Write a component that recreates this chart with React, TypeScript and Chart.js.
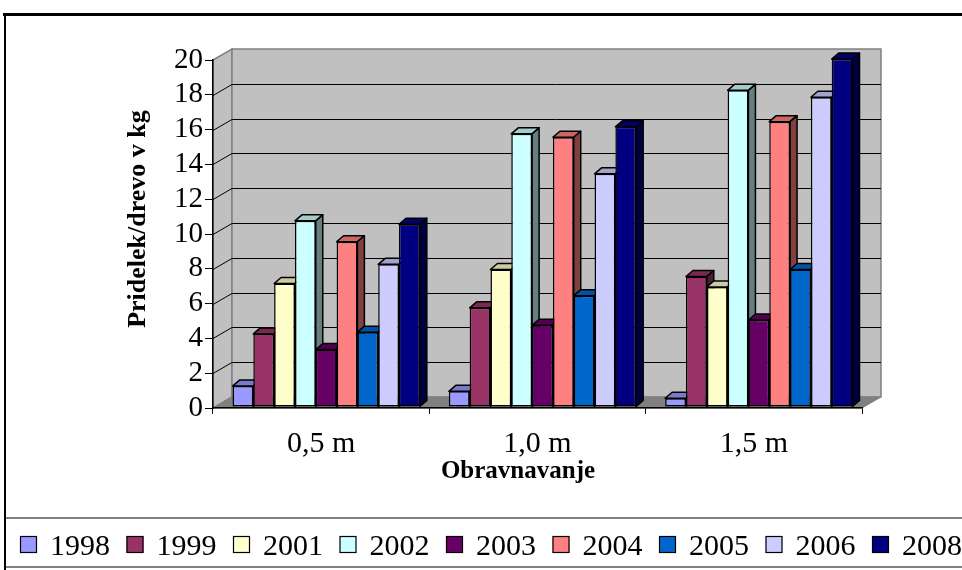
import { useEffect, useRef } from 'react';
import { Chart, registerables } from 'chart.js';

Chart.register(...registerables);

// Treatments (row spacing) on the category axis
const categories = ['0,5 m', '1,0 m', '1,5 m'];

// Harvest years shown as series
const years = ['1998', '1999', '2001', '2002', '2003', '2004', '2005', '2006', '2008'];

// Yield per tree (kg) for each year, in category order
const y1998 = [1.2, 0.9, 0.5];
const y1999 = [4.2, 5.7, 7.5];
const y2001 = [7.1, 7.9, 6.9];
const y2002 = [10.7, 15.7, 18.2];
const y2003 = [3.3, 4.7, 5.0];
const y2004 = [9.5, 15.5, 16.4];
const y2005 = [4.3, 6.4, 7.9];
const y2006 = [8.2, 13.4, 17.8];
const y2008 = [10.5, 16.1, 20.0];

const seriesValues = [y1998, y1999, y2001, y2002, y2003, y2004, y2005, y2006, y2008];
const seriesColors = ['#9999FF', '#993366', '#FFFFCC', '#CCFFFF', '#660066', '#FF8080', '#0066CC', '#CCCCFF', '#000080'];

const yMin = 0;
const yMax = 20;
const yStep = 2;

const xTitle = 'Obravnavanje';
const yTitle = 'Pridelek/drevo v kg';

const FONT = '"Liberation Serif", "Times New Roman", serif';

// depth of the walls / floor and of each bar
const WALL_DX = 19;
const WALL_DY = 11;
const BAR_DX = 7;
const BAR_DY = 6;
const BAR_SHIFT_X = 5;
const BAR_SHIFT_Y = -1;

function shade(hex: string, f: number): string {
  const n = parseInt(hex.slice(1), 16);
  const r = Math.round(((n >> 16) & 255) * f);
  const g = Math.round(((n >> 8) & 255) * f);
  const b = Math.round((n & 255) * f);
  return `rgb(${r},${g},${b})`;
}

function poly(ctx: CanvasRenderingContext2D, pts: number[][], fill: string, stroke: string, lw: number) {
  ctx.beginPath();
  ctx.moveTo(pts[0][0], pts[0][1]);
  for (let i = 1; i < pts.length; i++) ctx.lineTo(pts[i][0], pts[i][1]);
  ctx.closePath();
  ctx.fillStyle = fill;
  ctx.fill();
  ctx.lineWidth = lw;
  ctx.strokeStyle = stroke;
  ctx.stroke();
}

const box3d = {
  id: 'box3d',
  beforeDraw(chart: any) {
    const { ctx, chartArea, scales } = chart;
    const { left, right, top, bottom } = chartArea;
    const y = scales.y;
    ctx.save();
    ctx.lineJoin = 'miter';
    // side wall
    poly(ctx, [[left, top], [left + WALL_DX, top - WALL_DY], [left + WALL_DX, bottom - WALL_DY], [left, bottom]], '#C0C0C0', '#808080', 1.5);
    // back wall
    poly(ctx, [[left + WALL_DX, top - WALL_DY], [right + WALL_DX, top - WALL_DY], [right + WALL_DX, bottom - WALL_DY], [left + WALL_DX, bottom - WALL_DY]], '#C0C0C0', '#808080', 1.5);
    // floor
    poly(ctx, [[left, bottom], [right, bottom], [right + WALL_DX, bottom - WALL_DY], [left + WALL_DX, bottom - WALL_DY]], '#808080', '#808080', 1);
    // gridlines on the walls
    ctx.strokeStyle = '#000000';
    ctx.lineWidth = 1;
    for (let v = yMin + yStep; v < yMax; v += yStep) {
      const py = Math.round(y.getPixelForValue(v)) + 0.5;
      ctx.beginPath();
      ctx.moveTo(left, py);
      ctx.lineTo(left + WALL_DX, py - WALL_DY);
      ctx.lineTo(right + WALL_DX, py - WALL_DY);
      ctx.stroke();
    }
    ctx.restore();
  },
  beforeDatasetDraw() {
    return false;
  },
  afterDatasetsDraw(chart: any) {
    const { ctx } = chart;
    ctx.save();
    ctx.translate(BAR_SHIFT_X, BAR_SHIFT_Y);
    ctx.lineJoin = 'round';
    chart.data.datasets.forEach((ds: any, di: number) => {
      const meta = chart.getDatasetMeta(di);
      const color = seriesColors[di];
      meta.data.forEach((el: any) => {
        el.draw(ctx);
        const { x, y, base, width } = el.getProps(['x', 'y', 'base', 'width'], true);
        const x0 = x - width / 2;
        const x1 = x + width / 2;
        poly(ctx, [[x0, y], [x1, y], [x1 + BAR_DX, y - BAR_DY], [x0 + BAR_DX, y - BAR_DY]], shade(color, 0.8), '#000000', 1.5);
        poly(ctx, [[x1, y], [x1 + BAR_DX, y - BAR_DY], [x1 + BAR_DX, base - BAR_DY], [x1, base]], shade(color, 0.5), '#000000', 1.5);
      });
    });
    ctx.restore();
  },
  afterDraw(chart: any) {
    const { ctx } = chart;
    ctx.save();
    // axis titles
    ctx.fillStyle = '#000000';
    ctx.font = `bold 25px ${FONT}`;
    ctx.textAlign = 'center';
    ctx.textBaseline = 'alphabetic';
    ctx.fillText(xTitle, 518, 478);
    ctx.save();
    ctx.translate(145, 219);
    ctx.rotate(-Math.PI / 2);
    ctx.font = `bold 26px ${FONT}`;
    ctx.fillText(yTitle, 0, 0);
    ctx.restore();

    // legend strip
    ctx.strokeStyle = '#808080';
    ctx.lineWidth = 2;
    ctx.beginPath();
    ctx.moveTo(5, 518);
    ctx.lineTo(962, 518);
    ctx.moveTo(5, 567);
    ctx.lineTo(962, 567);
    ctx.stroke();

    ctx.font = `30px ${FONT}`;
    ctx.textAlign = 'left';
    chart.data.datasets.forEach((ds: any, i: number) => {
      const bx = 20 + i * 106.5;
      ctx.fillStyle = seriesColors[i];
      ctx.fillRect(bx, 536, 17, 17);
      ctx.strokeStyle = '#000000';
      ctx.lineWidth = 1.2;
      ctx.strokeRect(bx + 0.5, 536.5, 16, 16);
      ctx.fillStyle = '#000000';
      ctx.fillText(ds.label, bx + 30, 555);
    });

    // outer frame
    ctx.strokeStyle = '#000000';
    ctx.lineWidth = 3;
    ctx.beginPath();
    ctx.moveTo(3, 14.5);
    ctx.lineTo(962, 14.5);
    ctx.stroke();
    ctx.lineWidth = 2;
    ctx.beginPath();
    ctx.moveTo(5, 13);
    ctx.lineTo(5, 570);
    ctx.stroke();
    ctx.restore();
  },
};

export default function App() {
  const canvasRef = useRef<HTMLCanvasElement | null>(null);

  useEffect(() => {
    const canvas = canvasRef.current;
    if (!canvas) return;
    const chart = new Chart(canvas, {
      type: 'bar',
      data: {
        labels: categories,
        datasets: years.map((yr, i) => ({
          label: yr,
          data: seriesValues[i],
          backgroundColor: seriesColors[i],
          borderColor: '#000000',
          borderWidth: 1.5,
          borderSkipped: false,
          categoryPercentage: 0.866,
          barPercentage: 1.0,
          clip: false,
        })),
      },
      options: {
        responsive: false,
        animation: false,
        devicePixelRatio: 1,
        events: [],
        layout: { padding: { left: 0, top: 60, right: 100, bottom: 112 } },
        plugins: {
          legend: { display: false },
          title: { display: false },
          tooltip: { enabled: false },
        },
        scales: {
          x: {
            grid: { drawOnChartArea: false, drawTicks: true, tickLength: 6, color: '#000000', lineWidth: 1 },
            border: { display: true, color: '#000000', width: 1.5 },
            ticks: { color: '#000000', font: { family: FONT, size: 30 }, padding: 12 },
            afterFit(scale: any) {
              scale.height = 50;
            },
          },
          y: {
            min: yMin,
            max: yMax,
            grid: { drawOnChartArea: false, drawTicks: true, tickLength: 8, color: '#000000', lineWidth: 1 },
            border: { display: true, color: '#000000', width: 1.5 },
            ticks: { stepSize: yStep, autoSkip: false, color: '#000000', font: { family: FONT, size: 29 }, padding: 2 },
            afterFit(scale: any) {
              scale.width = 213;
            },
          },
        },
      },
      plugins: [box3d],
    });
    return () => chart.destroy();
  }, []);

  return (
    <div style={{ position: 'fixed', left: 0, top: 0, width: 962, height: 570, background: '#ffffff' }}>
      <canvas ref={canvasRef} width={962} height={570} style={{ display: 'block' }} />
    </div>
  );
}
